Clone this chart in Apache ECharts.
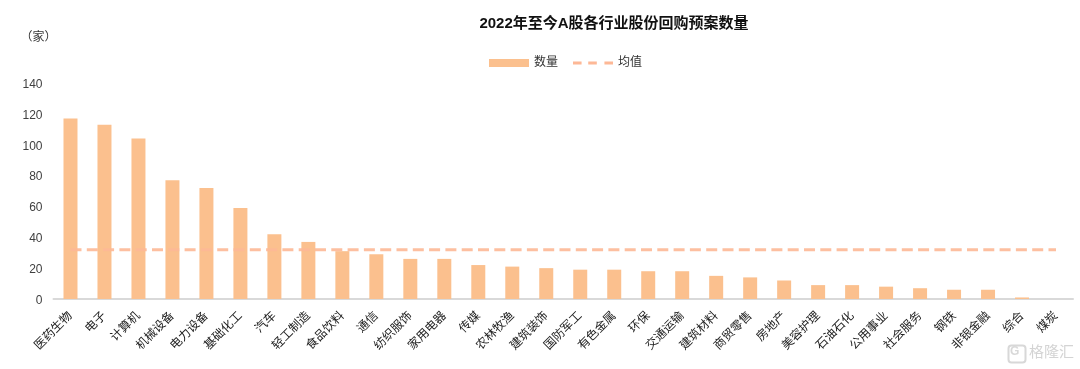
<!DOCTYPE html>
<html>
<head>
<meta charset="utf-8">
<script src="https://cdn.jsdelivr.net/npm/echarts@6/dist/echarts.min.js"></script>
<style>html,body{margin:0;padding:0;background:#fff}#c{width:1080px;height:369px}</style>
</head>
<body>
<div id="c"></div>
<script>
const categories = ['医药生物','电子','计算机','机械设备','电力设备','基础化工','汽车','轻工制造','食品饮料','通信','纺织服饰','家用电器','传媒','农林牧渔','建筑装饰','国防军工','有色金属','环保','交通运输','建筑材料','商贸零售','房地产','美容护理','石油石化','公用事业','社会服务','钢铁','非银金融','综合','煤炭'];
const counts = [117,113,104,77,72,59,42,37,31,29,26,26,22,21,20,19,19,18,18,15,14,12,9,9,8,7,6,6,1,0];
const means = [32,32,32,32,32,32,32,32,32,32,32,32,32,32,32,32,32,32,32,32,32,32,32,32,32,32,32,32,32,32];
const cjk = '"Liberation Sans","Noto Sans CJK SC",sans-serif';
const chart = echarts.init(document.getElementById('c'), null, {renderer:'canvas'});
chart.setOption({
  animation:false,
  backgroundColor:'#fff',
  title:{text:'2022年至今A股各行业股份回购预案数量',left:609,top:11,textAlign:'center',
    textStyle:{fontFamily:cjk,fontSize:15,fontWeight:'bold',color:'#111'}},
  legend:{left:484,top:52,itemWidth:40,itemHeight:8,itemGap:15,
    textStyle:{fontFamily:cjk,fontSize:12,color:'#333'},
    data:[{name:'数量',icon:'rect'},
      {name:'均值',icon:'path://M0 0H9V3H0Z M16 0H25V3H16Z M33 0H42V3H33Z',itemStyle:{color:'#FDB896'}}]},
  grid:{left:53.5,right:7,top:83,bottom:70},
  xAxis:{type:'category',data:categories,
    axisLine:{lineStyle:{color:'#D9D9D9',width:2}},axisTick:{show:false},
    axisLabel:{interval:0,rotate:45,margin:15,fontFamily:cjk,fontSize:12,color:'#222'}},
  yAxis:{type:'value',min:0,max:140,interval:20,splitLine:{show:false},axisLine:{show:false},axisTick:{show:false},
    name:'（家）',nameLocation:'end',nameGap:39,
    nameTextStyle:{fontFamily:cjk,fontSize:12,color:'#333',align:'right',padding:[0,-3,0,0]},
    axisLabel:{margin:11,fontFamily:cjk,fontSize:12,color:'#404040',verticalAlign:'top',lineHeight:3}},
  series:[
    {name:'数量',type:'bar',data:counts,barWidth:14,itemStyle:{color:'#FBC08E'}},
    {name:'均值',type:'line',data:means,symbol:'none',z:3,
      itemStyle:{color:'#FDB896'},
      lineStyle:{color:'#FDB896',width:3,type:[11,5.3],opacity:0.9}}
  ],
  graphic:[
    {type:'rect',left:1006,top:343,shape:{width:17,height:17,r:3},style:{fill:'none',stroke:'#D8D8D8',lineWidth:2},silent:true},
    {type:'text',left:1010,top:346,style:{text:'G',fontFamily:cjk,fontSize:12,fontWeight:'bold',fill:'#D8D8D8'},silent:true},
    {type:'text',left:1029,top:345,style:{text:'格隆汇',fontFamily:cjk,fontSize:15,fill:'#D4D4D4'},silent:true}
  ]
});
</script>
</body>
</html>
